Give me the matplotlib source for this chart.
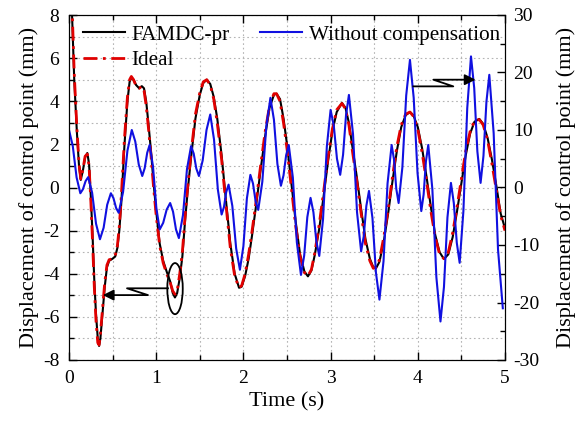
import matplotlib
matplotlib.use("Agg")
import matplotlib.pyplot as plt
from matplotlib.ticker import MultipleLocator
from matplotlib.patches import Ellipse

plt.rcParams["font.family"] = ["Liberation Serif", "DejaVu Serif"]
plt.rcParams["axes.unicode_minus"] = False

# FAMDC-pr (left axis, mm)
t_famdc = [0.0, 0.035, 0.06, 0.09, 0.115, 0.135, 0.16, 0.185, 0.21, 0.23, 0.25, 0.27,
           0.29, 0.31, 0.33, 0.345, 0.36, 0.385, 0.41, 0.435, 0.46, 0.50, 0.53, 0.555,
           0.577, 0.60, 0.635, 0.67, 0.695, 0.715, 0.74, 0.77, 0.805, 0.835, 0.86, 0.885,
           0.91, 0.94, 0.97, 1.0, 1.04, 1.08, 1.12, 1.16, 1.19, 1.215, 1.24, 1.27, 1.30,
           1.33, 1.36, 1.40, 1.45, 1.50, 1.54, 1.58, 1.62, 1.66, 1.70, 1.75, 1.80, 1.85,
           1.90, 1.95, 1.98, 2.02, 2.06, 2.10, 2.15, 2.20, 2.25, 2.30, 2.35, 2.38, 2.42,
           2.46, 2.50, 2.55, 2.60, 2.65, 2.70, 2.74, 2.78, 2.82, 2.87, 2.92, 2.97, 3.02,
           3.07, 3.13, 3.17, 3.21, 3.25, 3.30, 3.35, 3.40, 3.45, 3.49, 3.52, 3.56, 3.61,
           3.66, 3.71, 3.76, 3.81, 3.86, 3.91, 3.95, 4.00, 4.05, 4.10, 4.15, 4.20, 4.25,
           4.30, 4.35, 4.40, 4.45, 4.50, 4.55, 4.60, 4.65, 4.705, 4.75, 4.80, 4.85, 4.90,
           4.95, 5.00]
d_famdc = [10.0, 8.0, 5.0, 2.6, 1.0, 0.35, 0.8, 1.4, 1.6, 1.1, -0.4, -2.2,
           -4.3, -5.9, -7.0, -7.35, -7.0, -5.8, -4.6, -3.7, -3.4, -3.3, -3.2, -2.8,
           -2.0, -0.7, 1.9, 4.0, 4.9, 5.1, 5.0, 4.75, 4.6, 4.7, 4.6, 4.0,
           3.0, 1.7, 0.2, -1.1, -2.6, -3.4, -3.9, -4.35, -4.9, -5.1, -4.9, -4.2, -3.2,
           -1.6, -0.2, 1.4, 3.2, 4.3, 4.85, 5.0, 4.8, 4.2, 3.2, 1.5, -0.6, -2.6,
           -4.0, -4.65, -4.6, -4.1, -3.3, -2.2, -0.7, 0.9, 2.4, 3.7, 4.3, 4.35, 4.1,
           3.2, 2.0, 0.2, -1.6, -3.1, -3.9, -4.12, -3.85, -3.1, -1.9, -0.4, 1.2, 2.6,
           3.5, 3.92, 3.7, 3.0, 1.9, 0.5, -1.0, -2.4, -3.3, -3.7, -3.75, -3.45, -2.5,
           -1.2, 0.3, 1.7, 2.8, 3.35, 3.5, 3.35, 2.8, 1.8, 0.5, -0.9, -2.2, -3.0,
           -3.32, -3.1, -2.3, -1.1, 0.2, 1.5, 2.5, 3.05, 3.18, 2.95, 2.3, 1.3, 0.1,
           -1.2, -1.9]

# Ideal (left axis, mm)
t_ideal = t_famdc
d_ideal = [10.5, 8.4, 5.3, 2.8, 1.1, 0.4, 0.85, 1.45, 1.55, 1.0, -0.6, -2.5,
           -4.6, -6.2, -7.2, -7.3, -6.8, -5.6, -4.4, -3.6, -3.35, -3.3, -3.15, -2.7,
           -1.8, -0.4, 2.2, 4.2, 5.0, 5.15, 5.0, 4.7, 4.6, 4.7, 4.5, 3.8,
           2.8, 1.5, 0.0, -1.3, -2.7, -3.5, -4.0, -4.4, -4.8, -4.95, -4.8, -4.0, -3.0,
           -1.4, 0.0, 1.6, 3.4, 4.4, 4.9, 5.0, 4.75, 4.1, 3.0, 1.3, -0.8, -2.8,
           -4.1, -4.65, -4.55, -4.0, -3.1, -2.0, -0.5, 1.1, 2.6, 3.8, 4.35, 4.35, 4.0,
           3.0, 1.8, 0.0, -1.8, -3.2, -3.95, -4.1, -3.8, -3.0, -1.7, -0.2, 1.4, 2.7,
           3.6, 3.9, 3.65, 2.9, 1.7, 0.3, -1.2, -2.6, -3.4, -3.75, -3.7, -3.35, -2.3,
           -1.0, 0.5, 1.9, 2.9, 3.4, 3.5, 3.3, 2.7, 1.6, 0.3, -1.1, -2.3, -3.1,
           -3.3, -3.0, -2.1, -0.9, 0.4, 1.7, 2.6, 3.1, 3.15, 2.9, 2.2, 1.1, -0.1,
           -1.3, -2.0]

# Without compensation (right axis, mm)
t_nocomp = [0.00, 0.043, 0.087, 0.13, 0.16, 0.19, 0.22, 0.265, 0.31, 0.355, 0.397, 0.438,
            0.48, 0.51, 0.54, 0.57, 0.62, 0.67, 0.72, 0.76, 0.80, 0.84, 0.868, 0.897,
            0.925, 0.963, 1.002, 1.04, 1.08, 1.12, 1.16, 1.193, 1.227, 1.26, 1.307, 1.353,
            1.40, 1.43, 1.46, 1.49, 1.533, 1.577, 1.62, 1.663, 1.707, 1.75, 1.777, 1.803,
            1.83, 1.873, 1.917, 1.96, 2.0, 2.04, 2.08, 2.11, 2.14, 2.17, 2.217, 2.263,
            2.31, 2.35, 2.39, 2.43, 2.46, 2.49, 2.52, 2.567, 2.613, 2.66, 2.697, 2.733,
            2.77, 2.803, 2.837, 2.87, 2.913, 2.957, 3.00, 3.037, 3.073, 3.11, 3.143, 3.177,
            3.21, 3.257, 3.303, 3.35, 3.38, 3.41, 3.44, 3.48, 3.52, 3.56, 3.607, 3.653,
            3.70, 3.727, 3.753, 3.78, 3.823, 3.867, 3.91, 3.953, 3.997, 4.04, 4.067, 4.093,
            4.12, 4.167, 4.213, 4.26, 4.30, 4.34, 4.38, 4.413, 4.447, 4.48, 4.523, 4.567,
            4.61, 4.647, 4.683, 4.72, 4.753, 4.787, 4.82, 4.87, 4.92, 4.975]
d_nocomp = [10.0, 7.25, 1.75, -1.0, -0.3, 1.1, 1.8, -0.9, -6.3, -9.0, -7.0, -3.0,
            -1.0, -1.85, -3.55, -4.4, -0.8, 6.4, 10.0, 8.0, 4.0, 2.0, 3.35, 6.05,
            7.4, 3.7, -3.6, -7.3, -6.15, -3.85, -2.7, -4.2, -7.3, -8.8, -4.8, 3.2,
            7.2, 5.9, 3.3, 2.0, 4.7, 10.0, 12.7, 8.35, -0.35, -4.7, -3.4, -0.8,
            0.5, -3.2, -10.6, -14.3, -10.2, -1.9, 2.2, 0.7, -2.4, -3.9, 1.0, 10.7,
            15.6, 11.8, 4.1, 0.3, 2.1, 5.6, 7.4, 1.75, -9.55, -15.2, -11.85, -5.15,
            -1.8, -4.3, -9.4, -11.9, -5.55, 7.15, 13.5, 10.7, 5.0, 2.2, 5.7, 12.6,
            16.1, 9.3, -4.3, -11.1, -8.5, -3.2, -0.6, -5.3, -14.8, -19.5, -12.8, 0.7,
            7.4, 4.9, -0.2, -2.7, 3.5, 16.0, 22.2, 15.6, 2.5, -4.1, -1.2, 4.5,
            7.4, -0.3, -15.6, -23.3, -17.3, -5.2, 0.8, -2.7, -9.6, -13.1, -4.1, 13.8,
            22.8, 17.3, 6.3, 0.8, 5.5, 14.9, 19.6, 9.45, -10.8, -21.0]

fig = plt.figure(figsize=(5.83, 4.21), dpi=100)
ax1 = fig.add_axes([69 / 583, 61 / 421, 436 / 583, 345 / 421])
ax2 = ax1.twinx()

l1, = ax1.plot(t_famdc, d_famdc, color="black", lw=1.5, label="FAMDC-pr")
l3, = ax1.plot(t_ideal, d_ideal, color="#e00000", lw=2.0,
               linestyle=(0, (5, 2, 1, 2)), label="Ideal")
l2, = ax2.plot(t_nocomp, d_nocomp, color="#1010e0", lw=1.5,
               label="Without compensation")

ax1.set_xlim(0, 5)
ax1.set_ylim(-8, 8)
ax2.set_ylim(-30, 30)

ax1.xaxis.set_major_locator(MultipleLocator(1))
ax1.xaxis.set_minor_locator(MultipleLocator(0.5))
ax1.yaxis.set_major_locator(MultipleLocator(2))
ax1.yaxis.set_minor_locator(MultipleLocator(1))
ax2.yaxis.set_major_locator(MultipleLocator(10))
ax2.yaxis.set_minor_locator(MultipleLocator(5))

ax1.tick_params(which="both", direction="in", top=True, right=False, labelsize=14)
ax1.tick_params(which="major", length=6, width=1, pad=7)
ax1.tick_params(which="minor", length=3.5, width=1)
ax2.tick_params(which="both", direction="in", labelsize=14)
ax2.tick_params(which="major", length=6, width=1, pad=6)
ax2.tick_params(which="minor", length=3.5, width=1)

ax1.grid(which="both", linestyle=(0, (1.5, 2.5)), color="#b4b4b4", lw=0.8)

ax1.set_xlabel("Time (s)", fontsize=16, labelpad=4)
ax1.set_ylabel("Displacement of control point (mm)", fontsize=16, labelpad=3)
ax2.set_ylabel("Displacement of control point (mm)", fontsize=16, labelpad=12)

# annotation arrows with break marks
tr = ax1.transData
ax2.plot([1.135, 0.665, 0.906, 0.45], [-4.675, -4.675, -4.99, -4.99],
         color="black", lw=1.3, transform=tr)
ax2.annotate("", xy=(0.356, -4.99), xytext=(0.5, -4.99), xycoords=tr, textcoords=tr,
             arrowprops=dict(arrowstyle="-|>", color="black", lw=1.3, mutation_scale=16))
ax2.add_patch(Ellipse((1.216, -4.69), 0.177, 2.37, fill=False, ec="black", lw=1.3,
                      transform=tr))
ax2.plot([3.949, 4.407, 4.178, 4.6], [4.69, 4.69, 5.0, 5.0],
         color="black", lw=1.3, transform=tr)
ax2.annotate("", xy=(4.694, 5.0), xytext=(4.55, 5.0), xycoords=tr, textcoords=tr,
             arrowprops=dict(arrowstyle="-|>", color="black", lw=1.3, mutation_scale=16))

leg = ax2.legend([l1, l3, l2], ["FAMDC-pr", "Ideal", "Without compensation"],
                 ncol=2, loc="upper left", bbox_to_anchor=(0.017, 0.99),
                 frameon=False, fontsize=15.2, handlelength=1.98, handletextpad=0.32,
                 columnspacing=1.45, labelspacing=0.28, borderpad=0.3, borderaxespad=0.0)

fig.savefig("out.png", dpi=100)
